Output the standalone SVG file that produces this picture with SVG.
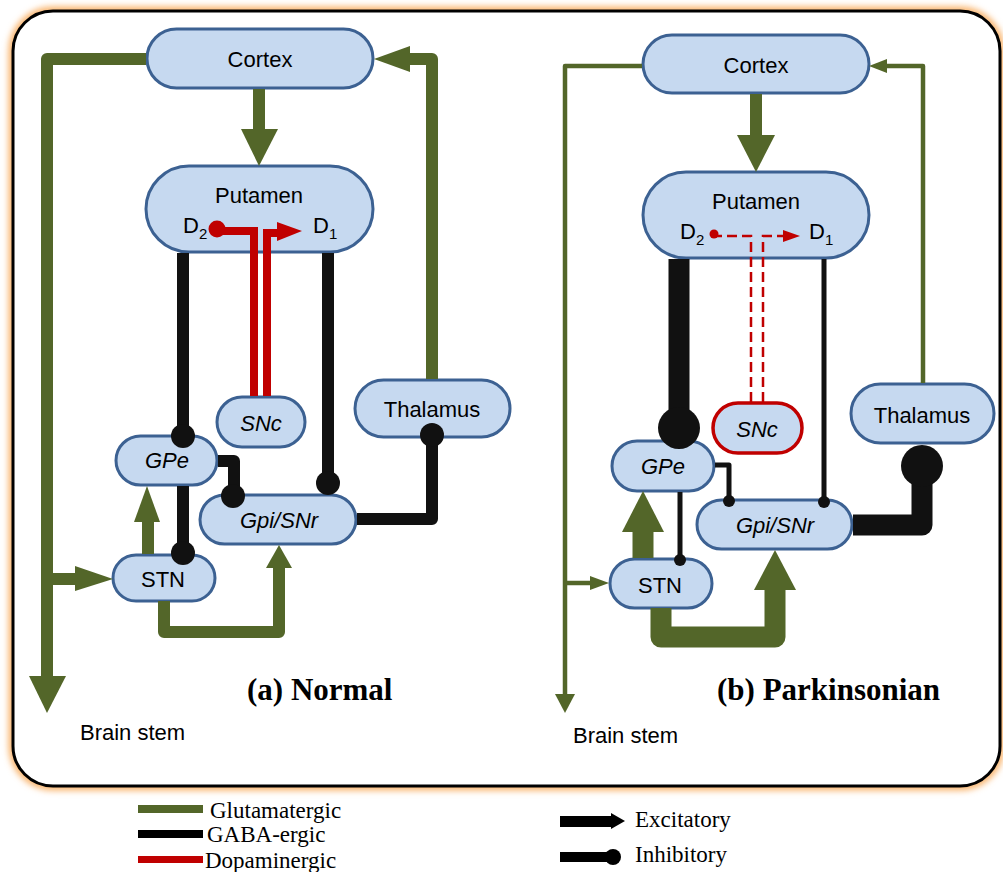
<svg xmlns="http://www.w3.org/2000/svg" width="1003" height="872" viewBox="0 0 1003 872">
<defs>
<filter id="glow" x="-5%" y="-5%" width="110%" height="110%"><feGaussianBlur stdDeviation="3"/></filter>
<style>
.node{fill:#c6d9f0;stroke:#3c6192;stroke-width:3}
.snc2{fill:#c6d9f0;stroke:#c00000;stroke-width:3.5}
.lbl{font-family:"Liberation Sans",Arial,sans-serif;font-size:22px;fill:#000;text-anchor:middle}
.sub{text-anchor:start}
.it{font-style:italic}
.glu{stroke:#536629;fill:none;stroke-linejoin:round}
.gaba{stroke:#111;fill:none;stroke-linejoin:round}
.dop{stroke:#c00000;fill:none}
.gf{fill:#536629}
.bf{fill:#111}
.rf{fill:#c00000}
.title{font-family:"Liberation Serif","Times New Roman",serif;font-weight:bold;font-size:31px;fill:#000}
.leg{font-family:"Liberation Serif","Times New Roman",serif;font-size:23px;fill:#000}
.bs{font-family:"Liberation Sans",Arial,sans-serif;font-size:22px;fill:#000}
</style>
</defs>
<rect x="0" y="0" width="1003" height="872" fill="#fff"/>
<rect x="13" y="11" width="987" height="775" rx="40" fill="none" stroke="#f9b36b" stroke-width="9" filter="url(#glow)"/>
<rect x="13" y="11" width="987" height="775" rx="40" fill="#fff" stroke="#000" stroke-width="3"/>

<g id="cortex-a"><rect class="node" x="147" y="29" width="226" height="59" rx="29.5"/><text class="lbl" x="260" y="67">Cortex</text></g>
<g id="putamen-a"><rect class="node" x="146" y="166" width="227" height="86" rx="43"/><text class="lbl" x="259" y="203">Putamen</text>
<text class="lbl sub" x="183" y="233">D<tspan font-size="15" dy="6">2</tspan></text>
<text class="lbl sub" x="313" y="233">D<tspan font-size="15" dy="6">1</tspan></text></g>
<g id="thalamus-a"><rect class="node" x="355" y="380" width="155" height="57" rx="28.5"/><text class="lbl" x="432" y="417">Thalamus</text></g>
<g id="snc-a"><rect class="node" x="217" y="397" width="88" height="50" rx="25"/><text class="lbl it" x="261" y="431">SNc</text></g>
<g id="gpe-a"><rect class="node" x="116" y="436" width="101" height="49" rx="24.5"/><text class="lbl it" x="167" y="468">GPe</text></g>
<g id="gpi-a"><rect class="node" x="200" y="495" width="156" height="49" rx="24.5"/><text class="lbl it" x="279" y="528">Gpi/SNr</text></g>
<g id="stn-a"><rect class="node" x="113" y="555" width="102" height="46" rx="23"/><text class="lbl" x="163" y="587">STN</text></g>

<g id="cortex-b"><rect class="node" x="643" y="35" width="226" height="58" rx="29"/><text class="lbl" x="756" y="73">Cortex</text></g>
<g id="putamen-b"><rect class="node" x="643" y="172" width="226" height="86" rx="43"/><text class="lbl" x="756" y="209">Putamen</text>
<text class="lbl sub" x="680" y="239">D<tspan font-size="15" dy="6">2</tspan></text>
<text class="lbl sub" x="809" y="239">D<tspan font-size="15" dy="6">1</tspan></text></g>
<g id="thalamus-b"><rect class="node" x="851" y="384" width="143" height="59" rx="29.5"/><text class="lbl" x="922" y="423">Thalamus</text></g>
<g id="snc-b"><rect class="snc2" x="713" y="403" width="89" height="50" rx="25"/><text class="lbl it" x="757" y="437">SNc</text></g>
<g id="gpe-b"><rect class="node" x="612" y="441" width="102" height="50" rx="25"/><text class="lbl it" x="663" y="474">GPe</text></g>
<g id="gpi-b"><rect class="node" x="697" y="500" width="155" height="49" rx="24.5"/><text class="lbl it" x="775" y="533">Gpi/SNr</text></g>
<g id="stn-b"><rect class="node" x="610" y="559" width="102" height="49" rx="24.5"/><text class="lbl" x="660" y="593">STN</text></g>

<g id="connectors">
<!-- Left: Normal -->
<path class="glu" stroke-width="12" d="M259,89 V131"/>
<polygon class="gf" points="241,129 278,129 259,166"/>
<path class="glu" stroke-width="12" d="M146,59 H47 V678"/>
<polygon class="gf" points="29,676 66,676 47,713"/>
<path class="glu" stroke-width="12" d="M47,579 H78"/>
<polygon class="gf" points="75,566 75,591 113,579"/>
<path class="glu" stroke-width="12" d="M432,379 V59 H408"/>
<polygon class="gf" points="410,46 410,72 374,59"/>
<path class="glu" stroke-width="12" d="M148,554 V520"/>
<polygon class="gf" points="134,522 160,522 147,486"/>
<path class="glu" stroke-width="12" d="M164,601 V632 H279 V566"/>
<polygon class="gf" points="266,568 292,568 279,545"/>

<path class="gaba" stroke-width="12" d="M183,253 V436"/>
<circle class="bf" cx="183" cy="436" r="12"/>
<path class="gaba" stroke-width="12" d="M328,253 V483"/>
<circle class="bf" cx="328" cy="483" r="12"/>
<path class="gaba" stroke-width="12" d="M183,486 V553"/>
<circle class="bf" cx="183" cy="553" r="12"/>
<path class="gaba" stroke-width="12" d="M218,461 H234 V496"/>
<circle class="bf" cx="233" cy="496" r="12"/>
<path class="gaba" stroke-width="12" d="M357,519 H432 V436"/>
<circle class="bf" cx="432" cy="435" r="12"/>

<path class="dop" stroke-width="8" d="M254,396 V231 H217"/>
<circle class="rf" cx="217" cy="229" r="8.5"/>
<path class="dop" stroke-width="8" d="M267,396 V233 H281"/>
<polygon class="rf" points="277,222 277,241 302,231"/>

<!-- Right: Parkinsonian -->
<path class="glu" stroke-width="12" d="M756,94 V137"/>
<polygon class="gf" points="737,135 775,135 756,172"/>
<path class="glu" stroke-width="4.5" d="M642,66 H565 V700"/>
<polygon class="gf" points="555,694 575,694 565,713"/>
<path class="glu" stroke-width="4.5" d="M565,583 H593"/>
<polygon class="gf" points="590,576 590,590 609,583"/>
<path class="glu" stroke-width="4.5" d="M923,383 V66 H884"/>
<polygon class="gf" points="887,59 887,73 869,66"/>
<path class="glu" stroke-width="21" d="M643,558 V529"/>
<polygon class="gf" points="622,532 664,532 643,491"/>
<path class="glu" stroke-width="21" d="M661,608 V637 H775 V587"/>
<polygon class="gf" points="754,590 796,590 775,550"/>

<path class="gaba" stroke-width="21" d="M679,259 V428"/>
<circle class="bf" cx="679" cy="428" r="21"/>
<path class="gaba" stroke-width="5" d="M824,259 V502"/>
<circle class="bf" cx="824" cy="502" r="6"/>
<path class="gaba" stroke-width="5" d="M715,465 H729 V501"/>
<circle class="bf" cx="729" cy="501" r="6"/>
<path class="gaba" stroke-width="5" d="M680,492 V560"/>
<circle class="bf" cx="680" cy="560" r="6"/>
<path class="gaba" stroke-width="21" d="M853,525 H922 V466"/>
<circle class="bf" cx="922" cy="466" r="21"/>

<path class="dop" stroke-width="2.5" stroke-dasharray="10,5" d="M751,402 V236 H716"/>
<circle class="rf" cx="714" cy="234" r="4.5"/>
<path class="dop" stroke-width="2.5" stroke-dasharray="10,5" d="M763,402 V236 H786"/>
<polygon class="rf" points="783,230 783,242 800,236"/>
</g>

<g id="titles">
<text class="title" x="247" y="700">(a) Normal</text>
<text class="title" x="717" y="700">(b) Parkinsonian</text>
<text class="bs" x="80" y="740">Brain stem</text>
<text class="bs" x="573" y="743">Brain stem</text>
</g>

<g id="legend">
<rect x="138" y="805" width="65" height="8" fill="#536629"/>
<text class="leg" x="210" y="818">Glutamatergic</text>
<rect x="138" y="830" width="65" height="8" fill="#000"/>
<text class="leg" x="207" y="842">GABA-ergic</text>
<rect x="138" y="856" width="65" height="7" fill="#c00000"/>
<text class="leg" x="205" y="868">Dopaminergic</text>
<rect x="560" y="816" width="53" height="11" fill="#000"/>
<polygon points="611,813 611,829 625,821" fill="#000"/>
<text class="leg" x="635" y="827">Excitatory</text>
<rect x="560" y="852" width="53" height="10" fill="#000"/>
<circle cx="613" cy="857" r="8" fill="#000"/>
<text class="leg" x="635" y="862">Inhibitory</text>
</g>
</svg>
